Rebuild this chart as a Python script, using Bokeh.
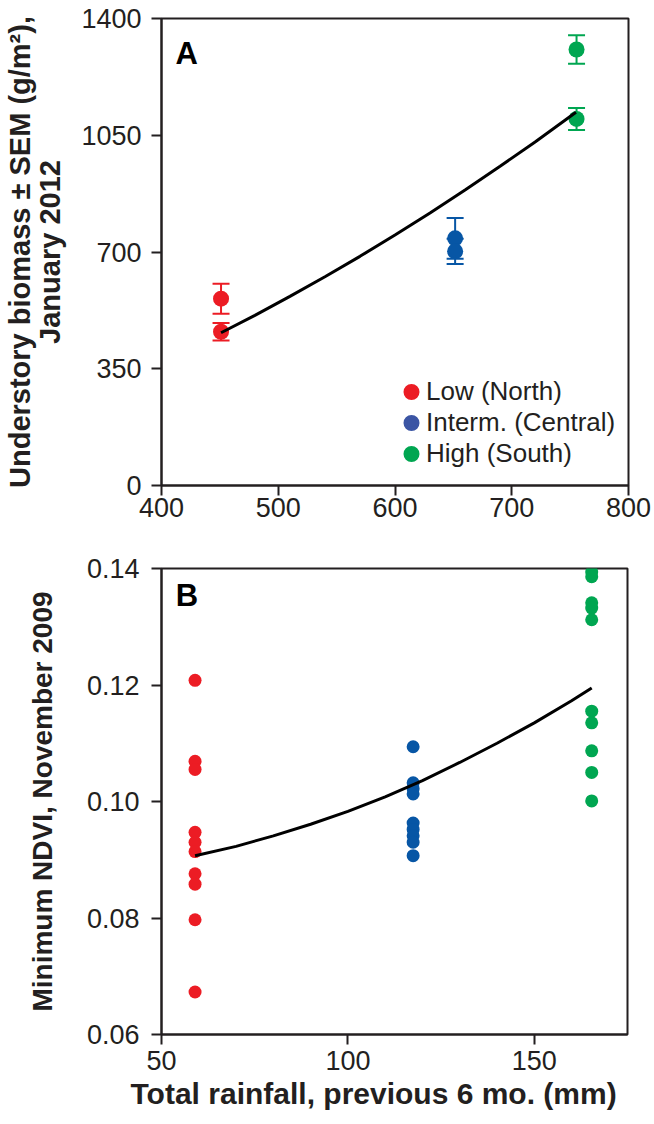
from bokeh.plotting import figure
from bokeh.layouts import column
from bokeh.models import (ColumnDataSource, Whisker, TeeHead, Legend, LegendItem,
                          FixedTicker, PrintfTickFormatter, Label, LinearAxis, Title)
from bokeh.embed import file_html
from bokeh.resources import INLINE

# ---------------- data ----------------
groups = ["Low (North)", "Interm. (Central)", "High (South)"]
point_colors = ["#EC1C24", "#0756A5", "#00A651"]
legend_colors = ["#EC1C24", "#3B55A4", "#00A651"]

# Panel A: understory biomass (g/m2), two sites per rainfall zone
biomass_rain = [451, 651.5, 755.5]
biomass_mean = [[560, 461], [741, 702], [1307, 1099]]
biomass_sem = [[45, 26], [61, 38], [43, 33]]
fit_a_x = [451, 480, 510, 540, 570, 600, 630, 660, 690, 720, 755]
fit_a_y = [458, 510, 567, 626, 687, 751, 817, 886, 957, 1030, 1119]

# Panel B: minimum NDVI, November 2009
ndvi_rain = [59, 117.5, 165.4]
ndvi_low = [0.1208, 0.1069, 0.1055, 0.0947, 0.0930, 0.0914, 0.0876, 0.0858, 0.0797, 0.0673]
ndvi_interm = [0.1094, 0.1032, 0.1022, 0.1013, 0.0963, 0.0952, 0.0941, 0.0930, 0.0907]
ndvi_high = [0.1394, 0.1386, 0.1341, 0.1332, 0.1312, 0.1155, 0.1135, 0.1087, 0.1050, 0.1001]
fit_b_x = [59, 70, 80, 90, 100, 110, 120, 130, 140, 150, 160, 165.4]
fit_b_y = [0.0907, 0.0923, 0.0941, 0.0961, 0.0983, 0.1008, 0.1036, 0.1067, 0.1100, 0.1135, 0.1173, 0.1195]

ticks_a_x = [400, 500, 600, 700, 800]
ticks_a_y = [0, 350, 700, 1050, 1400]
ticks_b_x = [50, 100, 150]
ticks_b_y = [0.06, 0.08, 0.10, 0.12, 0.14]

FONT = "Liberation Sans"
INK = "#231F20"
NAN = float("nan")


def style(p):
    p.grid.visible = False
    p.outline_line_color = INK
    p.outline_line_width = 2
    p.outline_line_alpha = 1
    p.background_fill_color = "white"
    p.border_fill_color = "white"
    for ax in (p.xaxis[0], p.yaxis[0]):
        ax.axis_line_width = 2
        ax.axis_line_color = INK
        ax.major_tick_line_width = 2
        ax.major_tick_line_color = INK
        ax.major_tick_out = 10
        ax.major_tick_in = 0
        ax.minor_tick_line_color = None
        ax.major_label_text_font = FONT
        ax.major_label_text_font_size = "27px"
        ax.major_label_text_color = INK
        ax.axis_label_text_font = FONT
        ax.axis_label_text_font_size = "29px"
        ax.axis_label_text_font_style = "bold"
        ax.axis_label_text_color = INK


# ---------------- panel A ----------------
pa = figure(frame_width=467, frame_height=467, x_range=(400, 800), y_range=(0, 1400),
            output_backend="svg", toolbar_location=None,
            min_border_left=140, min_border_right=24, min_border_top=18, min_border_bottom=46)
style(pa)
pa.xaxis.ticker = FixedTicker(ticks=ticks_a_x)
pa.yaxis.ticker = FixedTicker(ticks=ticks_a_y)
pa.xaxis.major_label_standoff = 2
pa.yaxis.major_label_standoff = 10
pa.yaxis.axis_label = "January 2012"
pa.yaxis.axis_label_standoff = 12

# outer, label-only axis carrying the first line of the y title
outer = LinearAxis(axis_label="Understory biomass \u00b1 SEM (g/m\u00b2),",
                   axis_line_color=None, major_tick_line_color=None,
                   minor_tick_line_color=None, major_label_text_font_size="0px",
                   major_tick_out=0, major_tick_in=0, major_label_standoff=0,
                   axis_label_standoff=-4, ticker=FixedTicker(ticks=[]),
                   axis_label_text_font=FONT, axis_label_text_font_size="29px",
                   axis_label_text_font_style="bold", axis_label_text_color=INK)
pa.add_layout(outer, "left")

for i, g in enumerate(groups):
    c = point_colors[i]
    xs = [biomass_rain[i]] * len(biomass_mean[i])
    ys = biomass_mean[i]
    src = ColumnDataSource(dict(
        x=xs, y=ys,
        upper=[m + s for m, s in zip(ys, biomass_sem[i])],
        lower=[m - s for m, s in zip(ys, biomass_sem[i])]))
    w = Whisker(base="x", upper="upper", lower="lower", source=src, dimension="height",
                line_color=c, line_width=2,
                upper_head=TeeHead(size=17, line_color=c, line_width=2),
                lower_head=TeeHead(size=17, line_color=c, line_width=2))
    pa.add_layout(w)
    pa.scatter("x", "y", source=src, size=16, fill_color=c, line_color=c, line_width=0)

pa.line(fit_a_x, fit_a_y, line_color="black", line_width=3)

items = []
for i, g in enumerate(groups):
    r = pa.scatter(x=[NAN], y=[NAN], marker="circle", size=10, fill_color=legend_colors[i],
                   line_color=legend_colors[i], line_width=4)
    items.append(LegendItem(label=g, renderers=[r], index=0))
leg = Legend(items=items, location=(235, 16), padding=0, margin=0, spacing=0,
             glyph_width=30, glyph_height=31, label_standoff=0,
             label_text_font=FONT, label_text_font_size="26px", label_text_color=INK,
             border_line_alpha=0, background_fill_alpha=0)
pa.add_layout(leg)

pa.add_layout(Label(x=412.0, y=1244, text="A", text_font=FONT, text_font_size="31px",
                    text_font_style="bold", text_color="black"))

# ---------------- panel B ----------------
pb = figure(frame_width=466, frame_height=466, x_range=(50, 175), y_range=(0.06, 0.14),
            output_backend="svg", toolbar_location=None,
            min_border_left=140, min_border_right=24, min_border_top=37, min_border_bottom=80)
style(pb)
pb.xaxis.ticker = FixedTicker(ticks=ticks_b_x)
pb.yaxis.ticker = FixedTicker(ticks=ticks_b_y)
pb.yaxis.formatter = PrintfTickFormatter(format="%.2f")
pb.xaxis.major_label_standoff = 6
pb.yaxis.major_label_standoff = 12
pb.yaxis.axis_label = "Minimum NDVI, November 2009"
pb.yaxis.axis_label_text_font_size = "28px"
pb.yaxis.axis_label_standoff = 26

pb.add_layout(Title(text="Total rainfall, previous 6 mo. (mm)", align="left", offset=-31,
                    standoff=5, text_font=FONT, text_font_size="30px",
                    text_font_style="bold", text_color=INK), "below")

for i, vals in enumerate([ndvi_low, ndvi_interm, ndvi_high]):
    c = point_colors[i]
    pb.scatter([ndvi_rain[i]] * len(vals), vals, size=13, fill_color=c, line_color=c, line_width=0)

pb.line(fit_b_x, fit_b_y, line_color="black", line_width=3)

pb.add_layout(Label(x=53.8, y=0.1324, text="B", text_font=FONT, text_font_size="31px",
                    text_font_style="bold", text_color="black"))

layout = column(pa, pb, spacing=0)
open("out.html", "w").write(file_html(layout, INLINE))
